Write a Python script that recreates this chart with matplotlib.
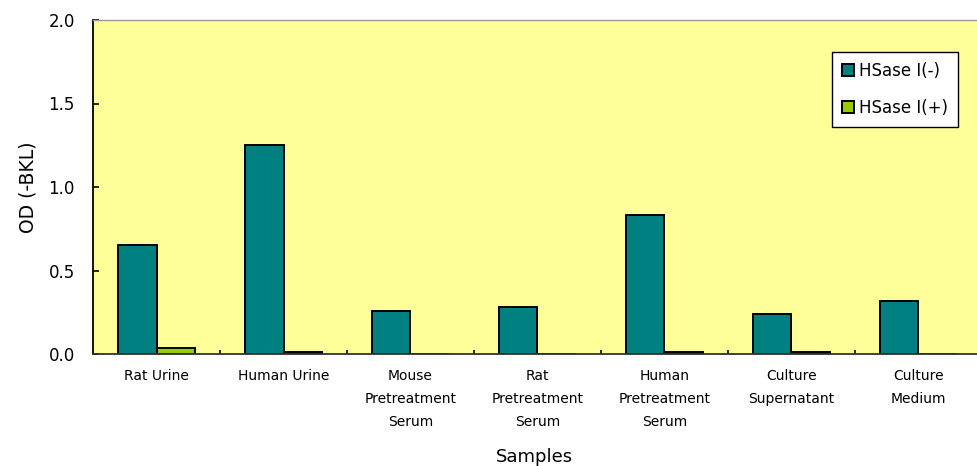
import numpy as np
import matplotlib
matplotlib.use("Agg")
import matplotlib.pyplot as plt

# data
samples = ["Rat Urine", "Human Urine", "Mouse\nPretreatment\nSerum",
           "Rat\nPretreatment\nSerum", "Human\nPretreatment\nSerum",
           "Culture\nSupernatant", "Culture\nMedium"]
hsase_minus = [0.65, 1.25, 0.26, 0.28, 0.83, 0.24, 0.32]
hsase_plus = [0.035, 0.01, 0.0, 0.0, 0.01, 0.01, 0.0]
yticks = [0.0, 0.5, 1.0, 1.5, 2.0]

teal = "#008080"
green = "#99CC00"
panel = "#FFFF99"

fig = plt.figure(figsize=(9.77, 4.66), dpi=100, facecolor="white")
ax = fig.add_axes([93/977, 112/466, 889/977, 334/466])
ax.set_facecolor(panel)

x = np.arange(len(samples))
w = 0.3
ax.bar(x - w/2, hsase_minus, w, color=teal, edgecolor="black", linewidth=1.4,
       label="HSase I(-)", zorder=2)
ax.bar(x + w/2, hsase_plus, w, color=green, edgecolor="black", linewidth=1.4,
       label="HSase I(+)", zorder=2)

ax.set_xlim(-0.5, len(samples) - 0.5)
ax.set_ylim(0, 2.0)
ax.set_yticks(yticks)
ax.set_yticklabels(["%.1f" % v for v in yticks], fontsize=12)
ax.tick_params(axis="y", direction="in", length=4, width=1.2, pad=13, colors="black")

ax.set_xticks(x)
ax.set_xticklabels(samples, fontsize=10, linespacing=1.8, va="top")
ax.tick_params(axis="x", which="major", length=0, pad=11)
ax.set_xticks(x[:-1] + 0.5, minor=True)
ax.tick_params(axis="x", which="minor", direction="in", length=3, width=1.2)

ax.spines["left"].set_linewidth(1.3)
ax.spines["bottom"].set_linewidth(1.3)
ax.spines["bottom"].set_color("#333333")
ax.spines["top"].set_color("#999999")
ax.spines["top"].set_linewidth(1.0)
ax.spines["right"].set_visible(False)

ax.set_ylabel("OD (-BKL)", fontsize=13.5)
ax.yaxis.set_label_coords(-0.062, 0.5)
ax.set_xlabel("Samples", fontsize=13)
ax.xaxis.set_label_coords(0.497, -0.28)

leg = ax.legend(loc="upper left", bbox_to_anchor=((832 - 93)/889, 1 - 32/334),
                fontsize=12, frameon=True, fancybox=False, edgecolor="black",
                facecolor="white", framealpha=1, handlelength=0.7, handleheight=0.7,
                handletextpad=0.3, labelspacing=1.15, borderpad=0.6, borderaxespad=0)
leg.get_frame().set_linewidth(1.0)
for h in leg.legend_handles:
    h.set_edgecolor("black")

fig.savefig("out.png", dpi=100)
